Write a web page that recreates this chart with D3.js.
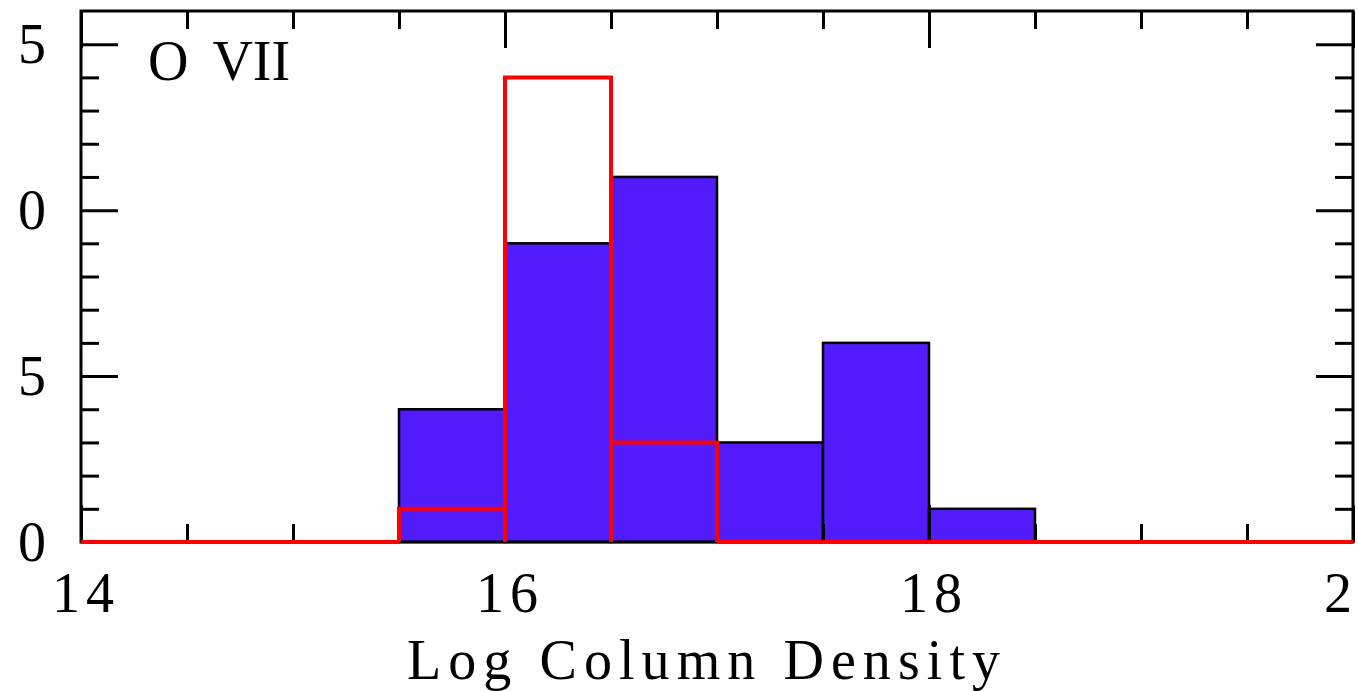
<!DOCTYPE html>
<html>
<head>
<meta charset="utf-8">
<script src="https://cdn.jsdelivr.net/npm/d3@7"></script>
<style>
  html, body { margin: 0; padding: 0; background: #fff; }
  svg { display: block; }
  text { font-family: "Liberation Serif", "DejaVu Serif", serif; fill: #000; }
</style>
</head>
<body>
<svg id="chart" width="1358" height="691"></svg>
<script>
// Histogram bins: left edges of 0.5-wide bins in log column density
const binEdges = [14, 14.5, 15, 15.5, 16, 16.5, 17, 17.5, 18, 18.5, 19, 19.5];
const binWidth = 0.5;
// Counts per bin for the filled (blue) and outlined (red) samples
const blueCounts = [0, 0, 0, 4, 9, 11, 3, 6, 1, 0, 0, 0];
const redCounts  = [0, 0, 0, 1, 14, 3, 0, 0, 0, 0, 0, 0];
// Axis ticks
const xMajorTicks = [14, 16, 18, 20];
const xMinorTicks = [14.5, 15, 15.5, 16.5, 17, 17.5, 18.5, 19, 19.5];
const yMajorTicks = [0, 5, 10, 15];
const yMinorTicks = [1, 2, 3, 4, 6, 7, 8, 9, 11, 12, 13, 14];
const ionLabel = "O VII";
const xTitle = "Log Column Density";

const svg = d3.select("#chart");
const x = d3.scaleLinear().domain([14, 20]).range([81, 1353]);
const y = d3.scaleLinear().domain([0, 16]).range([542, 11]);

const blue = "#521bfb";

// Filled bars
svg.append("g")
  .selectAll("rect")
  .data(binEdges.map((e, i) => ({ x0: e, x1: e + binWidth, n: blueCounts[i] })).filter(d => d.n > 0))
  .join("rect")
  .attr("x", d => x(d.x0))
  .attr("y", d => y(d.n))
  .attr("width", d => x(d.x1) - x(d.x0))
  .attr("height", d => y(0) - y(d.n))
  .attr("fill", blue)
  .attr("stroke", "#000")
  .attr("stroke-width", 2.5);

// Frame
svg.append("rect")
  .attr("x", x(14)).attr("y", y(16))
  .attr("width", x(20) - x(14)).attr("height", y(0) - y(16))
  .attr("fill", "none").attr("stroke", "#000").attr("stroke-width", 3);

// Inward ticks on all four sides
function ticks(axisFn, scale, values, len, tx, ty) {
  svg.append("g")
    .attr("transform", `translate(${tx},${ty})`)
    .call(axisFn(scale).tickValues(values).tickSize(len).tickFormat(""))
    .call(g => g.select(".domain").remove())
    .call(g => g.selectAll("line").attr("stroke", "#000").attr("stroke-width", 3));
}
ticks(d3.axisBottom, x, xMajorTicks, -37, 0, y(0));
ticks(d3.axisBottom, x, xMinorTicks, -18, 0, y(0));
ticks(d3.axisTop, x, xMajorTicks, -37, 0, y(16));
ticks(d3.axisTop, x, xMinorTicks, -18, 0, y(16));
ticks(d3.axisLeft, y, yMajorTicks, -37, x(14), 0);
ticks(d3.axisLeft, y, yMinorTicks, -18, x(14), 0);
ticks(d3.axisRight, y, yMajorTicks, -37, x(20), 0);
ticks(d3.axisRight, y, yMinorTicks, -18, x(20), 0);

// Outlined histogram: each bin as an open step from the baseline
const redPath = binEdges.map((e, i) => {
  const x0 = x(e), x1 = x(e + binWidth), yh = y(redCounts[i]), y0 = y(0);
  return `M${x0},${y0}V${yh}H${x1}V${y0}`;
}).join("");
svg.append("path")
  .attr("d", redPath)
  .attr("fill", "none")
  .attr("stroke", "#ff0000")
  .attr("stroke-width", 4)
  .attr("stroke-linejoin", "miter");

// Tick labels (wide digit spacing, as in the plotting font)
svg.append("g").selectAll("text")
  .data(xMajorTicks)
  .join("text")
  .attr("x", d => x(d) - 29)
  .attr("y", 612)
  .attr("font-size", 56)
  .attr("textLength", 62)
  .attr("lengthAdjust", "spacing")
  .text(d => d);

svg.append("g").selectAll("text")
  .data(yMajorTicks)
  .join("text")
  .attr("x", 46)
  .attr("y", d => y(d) + 19)
  .attr("text-anchor", "end")
  .attr("font-size", 56)
  .each(function (d) {
    const t = d3.select(this);
    if (String(d).length > 1) t.attr("textLength", 74).attr("lengthAdjust", "spacing");
  })
  .text(d => d);

// Ion label
svg.append("text")
  .attr("x", 148).attr("y", 80)
  .attr("font-size", 56)
  .style("word-spacing", "11px")
  .text(ionLabel);

// X-axis title
svg.append("text")
  .attr("x", 407).attr("y", 679)
  .attr("font-size", 56)
  .attr("textLength", 593)
  .attr("lengthAdjust", "spacing")
  .text(xTitle);
</script>
</body>
</html>
